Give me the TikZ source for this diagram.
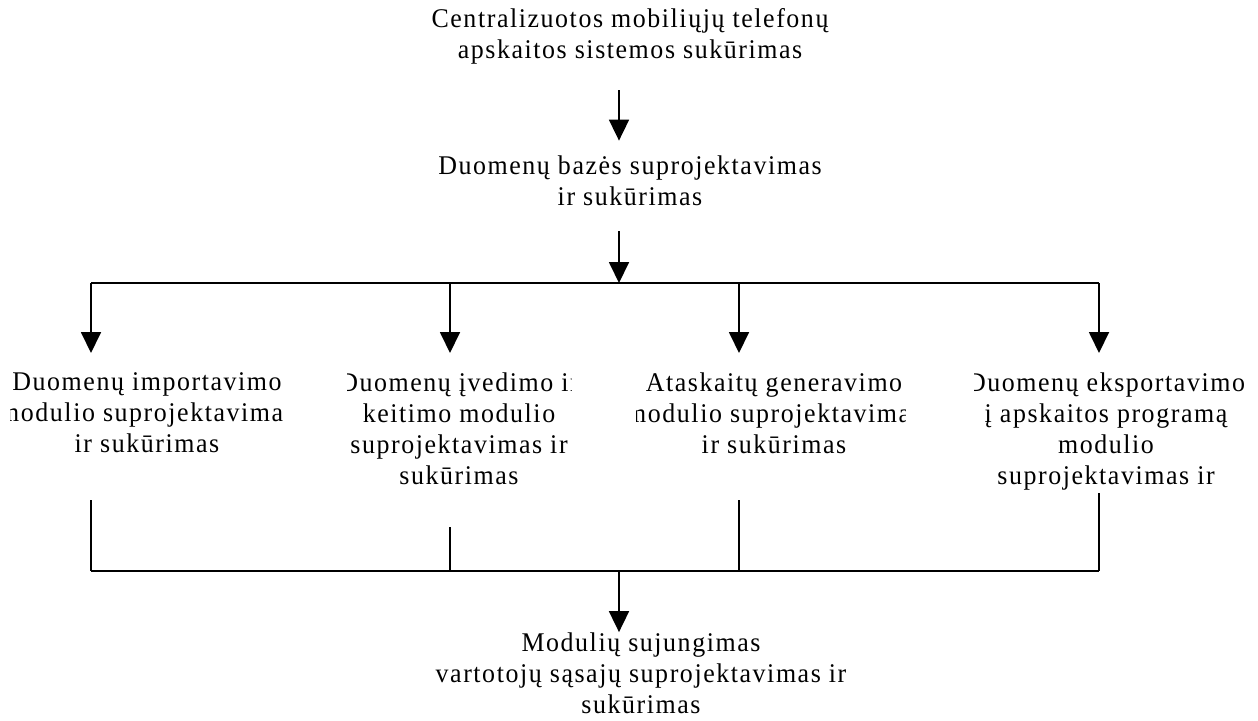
\documentclass[tikz,border=0pt]{standalone}
\usepackage{fontspec}
\setmainfont{Liberation Serif}[LetterSpace=5.8,FakeStretch=0.96]
\usetikzlibrary{arrows.meta,positioning,calc}

\begin{document}
\begin{tikzpicture}[x=0.5pt,y=-0.5pt,>={Triangle[length=10.5pt,width=10pt]},
  lbl/.style={align=center,inner sep=0pt,font=\fontsize{13.5}{15.5}\selectfont},
  link/.style={line width=0.9pt}]
  \useasboundingbox (0,0) rectangle (1258,720);
  % stages
  \node[lbl] (goal) at (630,36) {Centralizuotos mobiliųjų telefonų\\apskaitos sistemos sukūrimas};
  \node[lbl] (db) at (630,181) {Duomenų bazės suprojektavimas\\ir sukūrimas};
  \node[lbl] (join) at (641,673) {Modulių sujungimas\\vartotojų sąsajų suprojektavimas ir\\sukūrimas};
  \coordinate (axis) at (619,0);
  \coordinate (split) at (619,283);
  \coordinate (merge) at (619,571);
  % modules, cut off by their text boxes
  \foreach \i/\cx/\lx/\rx/\tx/\bot/\txt in {
    1/91/10/283/147/500/{Duomenų importavimo\\modulio suprojektavimas\\ir sukūrimas},
    2/450/347/571/459/527/{Duomenų įvedimo ir\\keitimo modulio\\suprojektavimas ir\\sukūrimas},
    3/739/636/905/774/500/{Ataskaitų generavimo\\modulio suprojektavimas\\ir sukūrimas},
    4/1099/974/1250/1106/493/{Duomenų eksportavimo\\į apskaitos programą\\modulio\\suprojektavimas ir\\sukūrimas}}{
    \coordinate (k\i) at (\cx,0);
    \coordinate (nw\i) at (\lx,360);
    \coordinate (se\i) at (\rx,\bot);
    \begin{scope}
      \clip (nw\i) rectangle (se\i);
      \node[lbl,anchor=north] (m\i) at (\tx,372) {\txt};
    \end{scope}
    \draw[link,->,shorten >=3.5pt] (split -| k\i) -- (nw\i -| k\i);
    \draw[link] (se\i -| k\i) -- (merge -| k\i);}
  % connectors
  \draw[link,->,shorten <=13pt,shorten >=7.5pt] (goal.south -| axis) -- (db.north -| axis);
  \draw[link,->,shorten <=12.5pt] (db.south -| axis) -- (split);
  \draw[link] (split -| k1) -- (split -| k4);
  \draw[link] (merge -| k1) -- (merge -| k4);
  \draw[link,->] (merge) -- (join.north -| axis);
\end{tikzpicture}
\end{document}
